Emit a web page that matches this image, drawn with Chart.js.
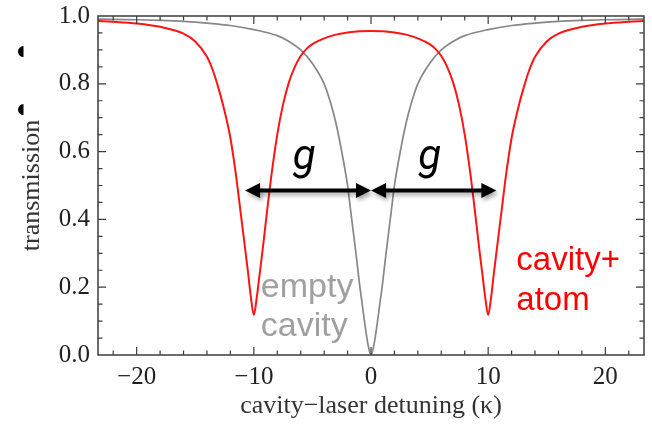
<!DOCTYPE html>
<html>
<head>
    <title>Cavity transmission</title>
    <script src="https://cdn.jsdelivr.net/npm/chart.js"></script>
</head>
<body style="margin:0; background-color:white;">
    <canvas id="transChart" width="652" height="425"></canvas>

    <script>
        // detuning in units of kappa, transmission 0..1
        const emptyX = [-23.3, -22, -20, -18, -16, -14, -12, -10, -8, -7, -6, -5, -4, -3.5, -3, -2.5, -2, -1.75, -1.5, -1.25, -1, -0.75, -0.5, -0.25,
                        0, 0.25, 0.5, 0.75, 1, 1.25, 1.5, 1.75, 2, 2.5, 3, 3.5, 4, 5, 6, 7, 8, 10, 12, 14, 16, 18, 20, 22, 23.3];
        const emptyT = [0.991, 0.99, 0.989, 0.987, 0.984, 0.979, 0.972, 0.96, 0.942, 0.925, 0.9, 0.86, 0.8, 0.75, 0.685, 0.6, 0.5, 0.43, 0.36, 0.29, 0.215, 0.15, 0.085, 0.03,
                        0.0, 0.03, 0.085, 0.15, 0.215, 0.29, 0.36, 0.43, 0.5, 0.6, 0.685, 0.75, 0.8, 0.86, 0.9, 0.925, 0.942, 0.96, 0.972, 0.979, 0.984, 0.987, 0.989, 0.99, 0.991];

        const atomX = [-23.3, -22, -20, -18, -16, -15, -14, -13.5, -13, -12.5, -12, -11.5, -11.25, -11, -10.75, -10.5, -10.25, -10, -9.75, -9.5, -9.25, -9, -8.75, -8.5, -8, -7.5, -7, -6.5, -6, -5.5, -5, -4, -3, -2, -1,
                       0, 1, 2, 3, 4, 5, 5.5, 6, 6.5, 7, 7.5, 8, 8.5, 8.75, 9, 9.25, 9.5, 9.75, 10, 10.25, 10.5, 10.75, 11, 11.25, 11.5, 12, 12.5, 13, 13.5, 14, 15, 16, 18, 20, 22, 23.3];
        const atomT = [0.985, 0.983, 0.978, 0.968, 0.948, 0.925, 0.88, 0.84, 0.785, 0.72, 0.64, 0.525, 0.455, 0.385, 0.315, 0.245, 0.17, 0.118, 0.17, 0.24, 0.31, 0.385, 0.46, 0.53, 0.65, 0.74, 0.805, 0.85, 0.882, 0.903, 0.917, 0.934, 0.945, 0.951, 0.955,
                       0.956, 0.955, 0.951, 0.945, 0.934, 0.917, 0.903, 0.882, 0.85, 0.805, 0.74, 0.65, 0.53, 0.46, 0.385, 0.31, 0.24, 0.17, 0.118, 0.17, 0.245, 0.315, 0.385, 0.455, 0.525, 0.64, 0.72, 0.785, 0.84, 0.88, 0.925, 0.948, 0.968, 0.978, 0.983, 0.985];

        const xTicks = [-20, -10, 0, 10, 20];
        const yTicks = [0.0, 0.2, 0.4, 0.6, 0.8, 1.0];

        const serif = "'Liberation Serif', 'Times New Roman', serif";

        function toPoints(xs, ys) {
            return xs.map((x, i) => ({ x: x, y: ys[i] }));
        }

        function drawArrow(ctx, x1, x2, yy) {
            const head = 15, half = 7.5;
            ctx.strokeStyle = '#000';
            ctx.fillStyle = '#000';
            ctx.lineWidth = 4;
            ctx.beginPath();
            ctx.moveTo(x1 + head - 2, yy);
            ctx.lineTo(x2 - head + 2, yy);
            ctx.stroke();
            ctx.beginPath();
            ctx.moveTo(x1, yy);
            ctx.lineTo(x1 + head, yy - half);
            ctx.lineTo(x1 + head, yy + half);
            ctx.closePath();
            ctx.moveTo(x2, yy);
            ctx.lineTo(x2 - head, yy - half);
            ctx.lineTo(x2 - head, yy + half);
            ctx.closePath();
            ctx.fill();
        }

        // box frame with inward ticks on all four sides
        const frameTicks = {
            id: 'frameTicks',
            afterDatasetsDraw(chart) {
                const { ctx, chartArea: a, scales: { x, y } } = chart;
                ctx.save();
                ctx.strokeStyle = '#3c3c3c';
                ctx.lineWidth = 1.5;
                ctx.strokeRect(a.left, a.top, a.right - a.left, a.bottom - a.top);
                ctx.lineWidth = 1.2;
                ctx.beginPath();
                for (let v = -22; v <= 22; v += 2) {
                    const px = x.getPixelForValue(v);
                    const len = v % 10 === 0 ? 8 : 4.5;
                    ctx.moveTo(px, a.bottom); ctx.lineTo(px, a.bottom - len);
                    ctx.moveTo(px, a.top); ctx.lineTo(px, a.top + len);
                }
                for (let i = 1; i < 20; i++) {
                    const py = y.getPixelForValue(i * 0.05);
                    const len = i % 4 === 0 ? 8 : 4.5;
                    ctx.moveTo(a.left, py); ctx.lineTo(a.left + len, py);
                    ctx.moveTo(a.right, py); ctx.lineTo(a.right - len, py);
                }
                ctx.stroke();
                ctx.restore();
            }
        };

        // coupling arrows and curve labels
        const annotations = {
            id: 'annotations',
            afterDatasetsDraw(chart) {
                const { ctx, scales: { x, y } } = chart;
                ctx.save();

                // leftover bullet marks at the left edge
                ctx.fillStyle = '#000';
                [0.895, 0.724].forEach(v => {
                    ctx.beginPath();
                    ctx.arc(23.5, y.getPixelForValue(v), 5.5, Math.PI / 2, 3 * Math.PI / 2);
                    ctx.closePath();
                    ctx.fill();
                });

                ctx.shadowColor = 'rgba(0,0,0,0.35)';
                ctx.shadowBlur = 4;
                ctx.shadowOffsetX = 2;
                ctx.shadowOffsetY = 3;
                const ay = y.getPixelForValue(0.485);
                drawArrow(ctx, x.getPixelForValue(-10.75), x.getPixelForValue(0), ay);
                drawArrow(ctx, x.getPixelForValue(0), x.getPixelForValue(10.7), ay);
                ctx.shadowColor = 'transparent';

                ctx.fillStyle = '#000';
                ctx.font = "italic 42px Roboto";
                ctx.textAlign = 'center';
                ctx.textBaseline = 'alphabetic';
                ctx.fillText('g', x.getPixelForValue(-5.7), y.getPixelForValue(0.55));
                ctx.fillText('g', x.getPixelForValue(5.0), y.getPixelForValue(0.55));

                ctx.textAlign = 'left';
                ctx.font = "34px 'Liberation Sans'";
                ctx.fillStyle = 'rgb(160,160,160)';
                ctx.fillText('empty', x.getPixelForValue(-9.4), y.getPixelForValue(0.171));
                ctx.fillText('cavity', x.getPixelForValue(-9.4), y.getPixelForValue(0.056));

                ctx.font = "33px 'Liberation Sans'";
                ctx.fillStyle = 'rgb(255,0,0)';
                ctx.fillText('cavity+', x.getPixelForValue(12.4), y.getPixelForValue(0.251));
                ctx.fillText('atom', x.getPixelForValue(12.4), y.getPixelForValue(0.133));
                ctx.restore();
            }
        };

        new Chart(document.getElementById('transChart'), {
            type: 'line',
            data: {
                datasets: [
                    {
                        label: 'cavity+atom',
                        data: toPoints(atomX, atomT),
                        borderColor: 'rgb(255,20,20)',
                        borderWidth: 2,
                        pointRadius: 0,
                        cubicInterpolationMode: 'monotone',
                        order: 0
                    },
                    {
                        label: 'empty cavity',
                        data: toPoints(emptyX, emptyT),
                        borderColor: 'rgb(135,135,135)',
                        borderWidth: 1.7,
                        pointRadius: 0,
                        cubicInterpolationMode: 'monotone',
                        order: 1
                    }
                ]
            },
            options: {
                responsive: false,
                animation: false,
                layout: { padding: { left: 0, right: 8, top: 16, bottom: 0 } },
                plugins: {
                    legend: { display: false },
                    tooltip: { enabled: false }
                },
                scales: {
                    x: {
                        type: 'linear',
                        min: -23.3,
                        max: 23.3,
                        grid: { display: false, drawTicks: false },
                        border: { display: false },
                        afterBuildTicks: axis => { axis.ticks = xTicks.map(v => ({ value: v })); },
                        afterFit: scale => { scale.height = 70; },
                        ticks: {
                            padding: 7,
                            maxRotation: 0,
                            color: '#222',
                            font: { family: serif, size: 25 },
                            callback: v => String(v).replace('-', '\u2212')
                        },
                        title: {
                            display: true,
                            text: 'cavity\u2212laser detuning (\u03ba)',
                            color: '#333',
                            font: { family: serif, size: 26 },
                            padding: { top: 0, bottom: 3 }
                        }
                    },
                    y: {
                        min: 0,
                        max: 1,
                        grid: { display: false, drawTicks: false },
                        border: { display: false },
                        afterBuildTicks: axis => { axis.ticks = yTicks.map(v => ({ value: v })); },
                        afterFit: scale => {
                            scale.width = 98;
                            // let the top label sit above the frame without pushing it down
                            scale.paddingTop = 10;
                            scale.paddingBottom = 10;
                        },
                        ticks: {
                            padding: 8,
                            color: '#222',
                            font: { family: serif, size: 25 },
                            callback: v => v.toFixed(1)
                        },
                        title: {
                            display: true,
                            text: 'transmission',
                            color: '#333',
                            font: { family: serif, size: 26 },
                            padding: { top: 17, bottom: 0 }
                        }
                    }
                }
            },
            plugins: [frameTicks, annotations]
        });
    </script>
</body>
</html>
